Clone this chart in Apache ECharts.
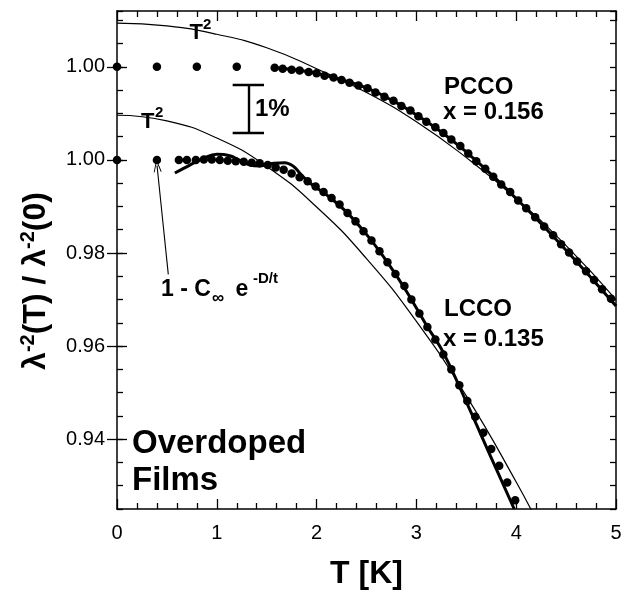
<!DOCTYPE html>
<html>
<head>
<meta charset="utf-8">
<script src="https://cdn.jsdelivr.net/npm/echarts@6/dist/echarts.min.js"></script>
<style>html,body{margin:0;padding:0;background:#fff}#c{width:638px;height:599px}</style>
</head>
<body>
<div id="c"></div>
<script>
// ---------------- data ----------------
const PCCO_OFFSET = 0.02; // PCCO curves are shifted up by 2% in the figure
const pccoT = [0, 0.4, 0.8, 1.2, 1.58, 1.66, 1.75, 1.83, 1.92, 2.00, 2.08, 2.17, 2.25, 2.33, 2.42, 2.51, 2.59, 2.68, 2.77, 2.85, 2.94, 3.02, 3.10, 3.19, 3.27, 3.35, 3.44, 3.52, 3.60, 3.69, 3.77, 3.85, 3.94, 4.02, 4.10, 4.19, 4.28, 4.37, 4.45, 4.53, 4.61, 4.70, 4.78, 4.86, 4.95];
const pccoVal = [1.0000, 1.0000, 1.0000, 1.0000, 0.9998, 0.9996, 0.9994, 0.9992, 0.9989, 0.9986, 0.9981, 0.9977, 0.9972, 0.9966, 0.9960, 0.9954, 0.9945, 0.9936, 0.9927, 0.9916, 0.9906, 0.9894, 0.9882, 0.9870, 0.9858, 0.9844, 0.9830, 0.9814, 0.9797, 0.9781, 0.9764, 0.9747, 0.9731, 0.9713, 0.9696, 0.9677, 0.9657, 0.9638, 0.9619, 0.9601, 0.9582, 0.9561, 0.9542, 0.9522, 0.9502];
const pccoFitT = [1.58, 1.8, 2.0, 2.25, 2.5, 2.75, 3.0, 3.25, 3.5, 3.75, 4.0, 4.25, 4.5, 4.75, 5.0];
const pccoFitVal = [0.9998, 0.9993, 0.9986, 0.9972, 0.9955, 0.9929, 0.9897, 0.9860, 0.9817, 0.9769, 0.9717, 0.9663, 0.9606, 0.9547, 0.9486];
const pccoT2T = [0, 0.5, 1.0, 1.5, 2.0, 2.5, 3.0, 3.5, 4.0, 4.5, 5.0];
const pccoT2Val = [1.0094, 1.0088, 1.0070, 1.0041, 0.9996, 0.9945, 0.9882, 0.9805, 0.9717, 0.9616, 0.9500];

const lccoT = [0, 0.4, 0.62, 0.70, 0.79, 0.87, 0.95, 1.03, 1.11, 1.19, 1.27, 1.35, 1.43, 1.51, 1.59, 1.67, 1.75, 1.83, 1.91, 1.99, 2.07, 2.15, 2.23, 2.31, 2.39, 2.47, 2.55, 2.63, 2.71, 2.79, 2.88, 2.95, 3.03, 3.11, 3.19, 3.27, 3.35, 3.43, 3.51, 3.59, 3.67, 3.75, 3.83, 3.91, 3.99];
const lccoVal = [1.0000, 1.0000, 1.0000, 1.0000, 1.0000, 1.0001, 1.0001, 1.0000, 0.9998, 0.9997, 0.9996, 0.9994, 0.9993, 0.9989, 0.9984, 0.9979, 0.9971, 0.9963, 0.9954, 0.9943, 0.9931, 0.9918, 0.9904, 0.9886, 0.9868, 0.9847, 0.9827, 0.9804, 0.9780, 0.9755, 0.9729, 0.9700, 0.9670, 0.9641, 0.9614, 0.9582, 0.9550, 0.9516, 0.9482, 0.9448, 0.9414, 0.9379, 0.9343, 0.9307, 0.9269];
const lccoFitT = [0.58, 0.73, 0.87, 1.00, 1.13, 1.23, 1.33, 1.43, 1.57, 1.68, 1.77, 1.83, 1.93, 2.1, 2.3, 2.5, 2.7, 2.9, 3.1, 3.27, 3.5, 3.75, 3.98];
const lccoFitVal = [0.9972, 0.9989, 1.0004, 1.0012, 1.0009, 0.9999, 0.9989, 0.9987, 0.9993, 0.9994, 0.9986, 0.9972, 0.9951, 0.9925, 0.9888, 0.9840, 0.9783, 0.9718, 0.9645, 0.9586, 0.9480, 0.9360, 0.9250];
const lccoT2T = [0, 0.5, 1.0, 1.5, 2.0, 2.5, 3.0, 3.5, 4.0, 4.25];
const lccoT2Val = [1.0096, 1.0084, 1.0047, 0.9986, 0.9899, 0.9788, 0.9653, 0.9493, 0.9308, 0.9206];

const xTicks = [0, 1, 2, 3, 4, 5];
const yLabelValues = [0.94, 0.96, 0.98, 1.00, 1.02]; // 1.02 is PCCO's 1.00
// annotation geometry (data coordinates)
const arrowFrom = [0.514, 0.9754];
const arrowTo = [0.401, 0.9988];
const barX = 1.316, barTop = 1.0161, barBottom = 1.0059, barCapL = 1.159, barCapR = 1.473;

// ---------------- build ----------------
const pairs = (xs, ys, off) => xs.map((x, i) => [x, +(ys[i] + (off || 0)).toFixed(5)]);
const FONT = '"Liberation Sans", Arial, Helvetica, sans-serif';
const INK = '#000';

const chart = echarts.init(document.getElementById('c'), null, {renderer: 'canvas'});

const baseX = {
  type: 'value', min: xTicks[0], max: xTicks[xTicks.length - 1], interval: 1,
  splitLine: {show: false},
  axisLine: {show: true, lineStyle: {color: INK, width: 1.5}},
  axisTick: {show: true, inside: true, length: 10, lineStyle: {color: INK, width: 1.3}},
  minorTick: {show: true, splitNumber: 5, length: 6, lineStyle: {color: INK, width: 1.3}},
  minorSplitLine: {show: false}
};
const Y_MIN = 0.925, Y_MAX = 1.032;
const minorY = (pos) => ({
  type: 'value', position: pos, min: Y_MIN, max: Y_MAX, interval: 0.005, offset: 0,
  splitLine: {show: false},
  axisLine: {show: true, onZero: false, lineStyle: {color: INK, width: 1.5}},
  axisTick: {show: true, inside: true, length: 6, lineStyle: {color: INK, width: 1.3}},
  axisLabel: {show: false}
});
const majorY = (pos, withLabels) => ({
  type: 'value', position: pos, min: Y_MIN, max: Y_MAX, interval: 0.005, offset: 0,
  splitLine: {show: false},
  axisLine: {show: false},
  axisTick: {show: true, inside: true, length: 10, customValues: yLabelValues, lineStyle: {color: INK, width: 1.3}},
  axisLabel: {
    show: withLabels, customValues: yLabelValues, margin: 12,
    fontFamily: FONT, fontSize: 20, color: '#000',
    formatter: v => (v > 1.01 ? v - PCCO_OFFSET : v).toFixed(2)
  }
});

const lineS = (name, data, width, smooth) => ({
  name, type: 'line', data, xAxisIndex: 0, yAxisIndex: 0,
  showSymbol: false, symbol: 'none', smooth: smooth,
  lineStyle: {color: INK, width}, clip: true, silent: true, z: 2
});
const dotS = (name, data, extra) => Object.assign({
  name, type: 'scatter', data, xAxisIndex: 0, yAxisIndex: 0,
  symbol: 'circle', symbolSize: 8.5, itemStyle: {color: INK, opacity: 1}, silent: true, z: 5
}, extra || {});

const chevron = 'path://M0,12 L5,0 L10,12 L8.8,12 L5,2.8 L1.2,12 Z';

const txt = (text, x, y, size, extra) => ({
  type: 'text', x, y, z: 100, silent: true,
  style: Object.assign({
    text, fill: INK, font: 'bold ' + size + 'px ' + FONT,
    textAlign: 'left', align: 'left', textVerticalAlign: 'middle', verticalAlign: 'middle'
  }, extra || {})
});

const option = {
  animation: false,
  backgroundColor: '#fff',
  grid: {left: 117, right: 22, top: 11, bottom: 90, containLabel: false},
  xAxis: [
    Object.assign({}, baseX, {
      position: 'bottom',
      axisLabel: {show: true, margin: 14, fontFamily: FONT, fontSize: 20, color: '#000'},
      name: 'T [K]', nameLocation: 'middle', nameGap: 49,
      nameTextStyle: {fontFamily: FONT, fontSize: 32, fontWeight: 'bold', color: INK}
    }),
    Object.assign({}, baseX, {position: 'top', axisLabel: {show: false}})
  ],
  yAxis: [minorY('left'), majorY('left', true), minorY('right'), majorY('right', false)],
  series: [
    lineS('PCCO T2', pairs(pccoT2T, pccoT2Val, PCCO_OFFSET), 1.2, true),
    lineS('PCCO fit', pairs(pccoFitT, pccoFitVal, PCCO_OFFSET), 3, true),
    lineS('LCCO T2', pairs(lccoT2T, lccoT2Val, 0), 1.2, true),
    lineS('LCCO fit', pairs(lccoFitT, lccoFitVal, 0), 3, 0.4),
    dotS('PCCO', pairs(pccoT, pccoVal, PCCO_OFFSET), {
      markLine: {
        silent: true, symbol: ['none', 'none'], label: {show: false},
        lineStyle: {color: INK, width: 2.4, type: 'solid', opacity: 1},
        emphasis: {disabled: true},
        data: [
          [{coord: [barX, barTop]}, {coord: [barX, barBottom]}],
          [{coord: [barCapL, barTop]}, {coord: [barCapR, barTop]}],
          [{coord: [barCapL, barBottom]}, {coord: [barCapR, barBottom]}]
        ]
      }
    }),
    dotS('LCCO', pairs(lccoT, lccoVal, 0), {
      markLine: {
        silent: true, symbol: ['none', chevron], symbolSize: [8, 13], label: {show: false},
        lineStyle: {color: INK, width: 1.1, type: 'solid', opacity: 1},
        itemStyle: {color: INK, opacity: 1},
        emphasis: {disabled: true},
        data: [[{coord: arrowFrom}, {coord: arrowTo}]]
      }
    })
  ],
  graphic: [
    txt('T', 189.5, 33, 22),
    txt('2', 203, 24.5, 15),
    txt('T', 141, 121.5, 22),
    txt('2', 155, 113, 15),
    txt('1%', 255, 109.5, 24),
    txt('PCCO', 444, 87, 24),
    txt('x = 0.156', 443, 112.5, 24),
    txt('LCCO', 444, 309.5, 24),
    txt('x = 0.135', 443, 339, 24),
    txt('Overdoped', 132, 444, 33),
    txt('Films', 132, 480.5, 33),
    txt('1 - C', 161, 289.5, 23),
    txt('\u221E', 212, 298, 17),
    txt('e', 235.5, 289.5, 23),
    txt('-D/t', 253, 279, 15),
    {
      type: 'text', x: 35, y: 281, rotation: Math.PI / 2, z: 100, silent: true,
      style: {
        text: '{b|\u03BB}{s|-2}{b|(T) / \u03BB}{s|-2}{b|(0)}',
        textAlign: 'center', align: 'center', textVerticalAlign: 'middle', verticalAlign: 'middle',
        fill: INK,
        rich: {
          b: {fontFamily: FONT, fontSize: 32, fontWeight: 'bold', color: INK, lineHeight: 34, verticalAlign: 'bottom'},
          s: {fontFamily: FONT, fontSize: 20, fontWeight: 'bold', color: INK, lineHeight: 34, verticalAlign: 'top', padding: [0, 0, 12, 0]}
        }
      }
    }
  ]
};
chart.setOption(option);
</script>
</body>
</html>
